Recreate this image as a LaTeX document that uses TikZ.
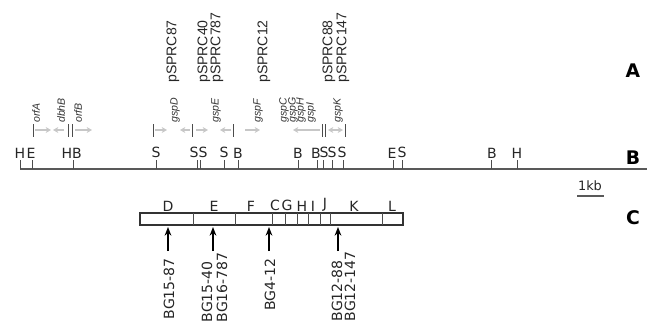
\documentclass[tikz,border=0pt]{standalone}
\usepackage{fontspec}
\setmainfont{DejaVu Sans}
\newfontfamily\arialfont{Liberation Sans}
\usetikzlibrary{arrows.meta}

\tikzset{
  site/.style={anchor=south, inner sep=0.5pt, font=\fontsize{12}{12}\selectfont, text=black!85},
  sitetick/.style={line width=0.8pt, gray!60!black},
  gene/.style={line width=0.9pt, black!22, -{Stealth[length=1.6mm,width=1.8mm]}},
  genename/.style={rotate=90, anchor=west, inner sep=0pt, font=\arialfont\itshape\fontsize{9}{9}\selectfont, text=black!80},
  clone/.style={rotate=90, anchor=west, inner sep=0pt, font=\arialfont\fontsize{12}{12}\selectfont, text=black!85},
  mutant/.style={rotate=90, anchor=east, inner sep=0pt, font=\fontsize{12}{12}\selectfont, text=black!85},
  frag/.style={anchor=south, inner sep=0.5pt, font=\fontsize{12}{12}\selectfont, text=black!85},
  panel/.style={font=\bfseries\fontsize{16}{16}\selectfont},
}

\begin{document}
\begin{tikzpicture}[x=0.03cm, y=-0.03cm, line cap=butt, >={Stealth[length=2.6mm,width=2mm]}]
  \useasboundingbox (0,0) rectangle (658,326);

  % Panel letters
  \node[panel] (pA) at (633,71) {A};
  \node[panel] (pB) at (633,158) {B};
  \node[panel] (pC) at (633,218) {C};

  % Clones
  \foreach \x/\t in {173/pSPRC87, 204/pSPRC40, 217/pSPRC787, 264/pSPRC12, 329/pSPRC88, 343/pSPRC147}
    \node[clone] (\t) at (\x,83) {\t};

  % Genes
  \foreach \x in {33,68,72,153,192,233,322,325,345}
    \draw[sitetick] (\x,124) -- (\x,137);
  \foreach \a/\b in {35/51, 64/53, 75/92, 155/167, 190/180, 196/208, 231/220, 245/260, 320/293}
    \draw[gene] (\a,130) -- (\b,130);
  \draw[gene, {Stealth[length=1.6mm,width=1.8mm]}-{Stealth[length=1.6mm,width=1.8mm]}] (328,130) -- (343,130);
  \foreach \x/\g in {36/orfA, 61/dbhB, 78/orfB, 175/gspD, 216/gspE, 258/gspF, 284/gspC, 293/gspG, 301/gspH, 311/gspI, 338/gspK}
    \node[genename] (\g) at (\x,123) {\g};

  % Restriction map
  \coordinate (mapL) at (20,169);
  \coordinate (mapR) at (647,169);
  \draw[line width=1.3pt, gray!70!black] (mapL) -- (mapR);
  \foreach \x in {20,32,73,156,197,200,224,238,298,317,323,332,343,393,402,491,517}
    \draw[sitetick] (\x,160) -- (\x,169);
  \foreach \x/\l in {20/H, 31/E, 67/H, 77/B, 156/S, 194/S, 203/S, 224/S, 238/B, 298/B,
                     316/B, 324/S, 332/S, 342/S, 392/E, 402/S, 492/B, 517/H}
    \node[site] (r\x) at (\x,159) {\l};

  % Scale bar
  \node[font=\fontsize{11}{11}\selectfont, text=black!85] (kb) at (590,186) {1kb};
  \coordinate (kbL) at (577,196);
  \coordinate (kbR) at (604,196);
  \draw[line width=1pt, gray!70!black] (kbL) -- (kbR);

  % Fragments
  \coordinate (boxTL) at (140,213);
  \coordinate (boxBR) at (403,225);
  \draw[line width=0.9pt, black!80] (boxTL) rectangle (boxBR);
  \foreach \x in {193,235,272,285,297,308,320,330,382}
    \draw[line width=0.6pt, black!70] (\x,213) -- (\x,225);
  \foreach \x/\f in {168/D, 214/E, 251/F, 275/C, 287/G, 302/H, 313/I, 325/J, 354/K, 392/L}
    \node[frag] (f\f) at (\x,212) {\f};

  % Insertions
  \foreach \x/\n in {168/a, 213/b, 269/c, 338/d} {
    \coordinate (ins\n) at (\x,251);
    \draw[->, line width=1pt] (ins\n) -- (ins\n |- 0,227);
  }
  \node[mutant] (m1) at (169,258) {BG15-87};
  \node[mutant] (m2) at (207,261) {BG15-40};
  \node[mutant] (m3) at (222,252) {BG16-787};
  \node[mutant] (m4) at (270,258) {BG4-12};
  \node[mutant] (m5) at (337,260) {BG12-88};
  \node[mutant] (m6) at (350,251) {BG12-147};
\end{tikzpicture}
\end{document}
